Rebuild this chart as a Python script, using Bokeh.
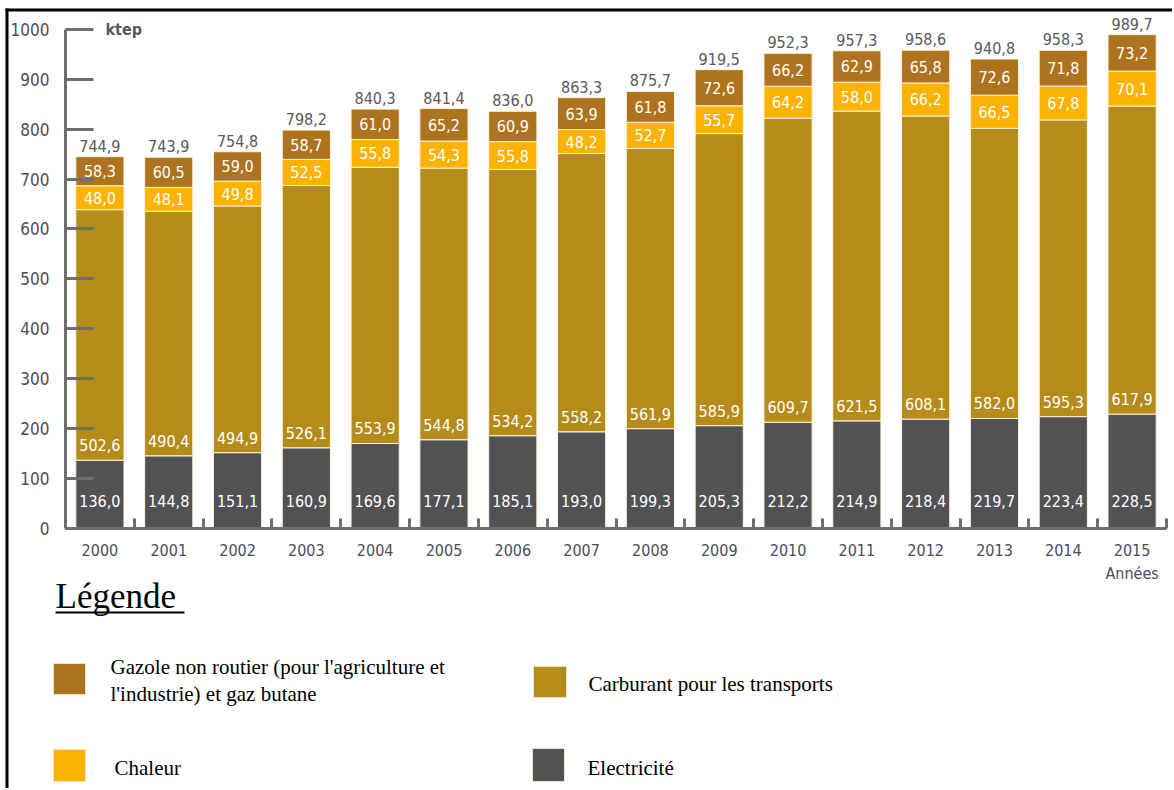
from bokeh.plotting import figure
from bokeh.models import Range1d, FixedTicker, ColumnDataSource, LinearAxis
from bokeh.embed import file_html
from bokeh.resources import INLINE
from bokeh.core.properties import value

# ---------------- data ----------------
years = [str(y) for y in range(2000, 2016)]
electricite = [136.0, 144.8, 151.1, 160.9, 169.6, 177.1, 185.1, 193.0,
               199.3, 205.3, 212.2, 214.9, 218.4, 219.7, 223.4, 228.5]
carburant = [502.6, 490.4, 494.9, 526.1, 553.9, 544.8, 534.2, 558.2,
             561.9, 585.9, 609.7, 621.5, 608.1, 582.0, 595.3, 617.9]
chaleur = [48.0, 48.1, 49.8, 52.5, 55.8, 54.3, 55.8, 48.2,
           52.7, 55.7, 64.2, 58.0, 66.2, 66.5, 67.8, 70.1]
gazole = [58.3, 60.5, 59.0, 58.7, 61.0, 65.2, 60.9, 63.9,
          61.8, 72.6, 66.2, 62.9, 65.8, 72.6, 71.8, 73.2]
totaux = [744.9, 743.9, 754.8, 798.2, 840.3, 841.4, 836.0, 863.3,
          875.7, 919.5, 952.3, 957.3, 958.6, 940.8, 958.3, 989.7]
y_ticks = [0, 100, 200, 300, 400, 500, 600, 700, 800, 900, 1000]

series_keys = ["elec", "carb", "chal", "gaz"]
series_labels = {
    "gaz": "Gazole non routier (pour l'agriculture et\nl'industrie) et gaz butane",
    "carb": "Carburant pour les transports",
    "chal": "Chaleur",
    "elec": "Electricité",
}
series_colors = {
    "elec": "#525154",
    "carb": "#B58B1A",
    "chal": "#FBB200",
    "gaz": "#AE731F",
}

NARROW = "'Liberation Sans Narrow', 'DejaVu Sans Condensed', sans-serif"
SERIF = "'Liberation Serif', 'Times New Roman', serif"
AXIS_COL = "#6d6e71"
TXT_COL = "#4b4d5a"

# ---------------- canvas geometry (page pixels) ----------------
W, H = 1172, 788
AX_L, AX_R = 65, 1166          # pixel of x=-0.5 and x=15.5
Y0_PX, Y1000_PX = 527.5, 29    # pixel of y=0 and y=1000
PXX = (AX_R - AX_L) / 16.0
PYY = (Y0_PX - Y1000_PX) / 1000.0


def X(px):
    return -0.5 + (px - AX_L) / PXX


def Y(py):
    return (Y0_PX - py) / PYY


def fmt(v):
    return f"{v:.1f}".replace(".", ",")


x = list(range(len(years)))
carb_top = [a + b for a, b in zip(electricite, carburant)]
chal_top = [c + d for c, d in zip(carb_top, chaleur)]
gaz_top = [c + d for c, d in zip(chal_top, gazole)]

src = ColumnDataSource(dict(
    x=x,
    elec=electricite, carb=carburant, chal=chaleur, gaz=gazole,
    zero=[0] * len(x),
    elec_top=list(electricite),
    chal_mid=[c + d / 2 for c, d in zip(carb_top, chaleur)],
    gaz_mid=[c + d / 2 for c, d in zip(chal_top, gazole)],
    tot=gaz_top,
    elec_lab=[fmt(v) for v in electricite],
    carb_lab=[fmt(v) for v in carburant],
    chal_lab=[fmt(v) for v in chaleur],
    gaz_lab=[fmt(v) for v in gazole],
    tot_lab=[fmt(v) for v in totaux],
))

# ---------------- figure ----------------
p = figure(width=W, height=H, output_backend="svg", toolbar_location=None,
           x_range=Range1d(X(0), X(W)),
           y_range=Range1d(Y(H), Y(0)),
           x_axis_location=None, y_axis_location=None,
           min_border=0, min_border_left=0, min_border_right=0,
           min_border_top=0, min_border_bottom=0)
p.outline_line_color = None
p.grid.grid_line_color = None
p.background_fill_color = "white"
p.border_fill_color = "white"

p.vbar_stack(series_keys, x="x", width=0.70, source=src,
             color=[series_colors[k] for k in series_keys],
             line_color="#fff3dc", line_width=1)

common = dict(source=src, text_font=value(NARROW), text_align="center")
p.text(x="x", y="zero", text="elec_lab", y_offset=-27, text_baseline="middle",
       text_color="white", text_font_size="16px", **common)
p.text(x="x", y="elec_top", text="carb_lab", y_offset=-15, text_baseline="middle",
       text_color="white", text_font_size="16px", **common)
p.text(x="x", y="chal_mid", text="chal_lab", text_baseline="middle",
       text_color="white", text_font_size="16px", **common)
p.text(x="x", y="gaz_mid", text="gaz_lab", text_baseline="middle",
       text_color="white", text_font_size="16px", **common)
p.text(x="x", y="tot", text="tot_lab", y_offset=-5, text_baseline="bottom",
       text_color="#58595b", text_font_size="16px", **common)

p.text(x=[X(105)], y=[y_ticks[-1]], text=["ktep"], text_baseline="middle",
       text_align="left", text_font=value(NARROW), text_font_size="16px",
       text_font_style="bold", text_color="#58595b")

# y axis (inside the canvas, at x = -0.5)
ya = LinearAxis(fixed_location=-0.5)
ya.ticker = FixedTicker(ticks=y_ticks)
ya.bounds = (0, 1000)
ya.axis_line_width = 3
ya.axis_line_color = AXIS_COL
ya.major_tick_in = 28
ya.major_tick_out = 0
ya.major_tick_line_width = 3
ya.major_tick_line_color = AXIS_COL
ya.minor_tick_line_color = None
ya.major_label_standoff = 16
ya.major_label_text_font = NARROW
ya.major_label_text_font_size = "17px"
ya.major_label_text_color = TXT_COL
p.add_layout(ya, "left")

# x axis (at y = 0)
xa = LinearAxis(fixed_location=0)
xa.ticker = FixedTicker(ticks=x, minor_ticks=[i + 0.5 for i in x])
overrides = {i: years[i] for i in x}
overrides[x[-1]] = years[-1] + "\nAnnées"
xa.major_label_overrides = overrides
xa.bounds = (-0.5, 15.5)
xa.axis_line_width = 3
xa.axis_line_color = AXIS_COL
xa.major_tick_in = 0
xa.major_tick_out = 0
xa.minor_tick_in = 10
xa.minor_tick_out = 0
xa.minor_tick_line_width = 3
xa.minor_tick_line_color = AXIS_COL
xa.major_label_standoff = 13
xa.major_label_text_font = NARROW
xa.major_label_text_font_size = "16px"
xa.major_label_text_color = TXT_COL
p.add_layout(xa, "below")

# frame lines of the original picture (top and left edges)
p.segment(x0=[X(5), X(6.5)], y0=[Y(9.5), Y(8)], x1=[X(W), X(6.5)], y1=[Y(9.5), Y(H)],
          line_color="black", line_width=3)

# ---------------- legend ----------------
p.text(x=[X(55)], y=[Y(596)], text=["Légende"], text_font=value(SERIF),
       text_font_size="35px", text_baseline="middle", text_color="black")
p.line(x=[X(55), X(184)], y=[Y(612), Y(612)], line_color="black", line_width=2)

leg_order = ["gaz", "carb", "chal", "elec"]
leg_src = ColumnDataSource(dict(
    left=[X(v) for v in [53, 533, 53, 532]],
    right=[X(v) for v in [85, 566, 85, 564]],
    top=[Y(v) for v in [663, 666, 749, 748]],
    bottom=[Y(v) for v in [694, 697, 781, 781]],
    tx=[X(v) for v in [110, 588, 114, 587]],
    ty=[Y(v) for v in [680, 683, 767, 767]],
    color=[series_colors[k] for k in leg_order],
    label=[series_labels[k] for k in leg_order],
))
p.quad(left="left", right="right", top="top", bottom="bottom", color="color",
       line_color="#f0e2c8", line_width=1, source=leg_src)
p.text(x="tx", y="ty", text="label", source=leg_src, text_font=value(SERIF),
       text_font_size="21px", text_baseline="middle", text_align="left",
       text_color="black", text_line_height=1.12)

open("out.html", "w").write(file_html(p, INLINE))
